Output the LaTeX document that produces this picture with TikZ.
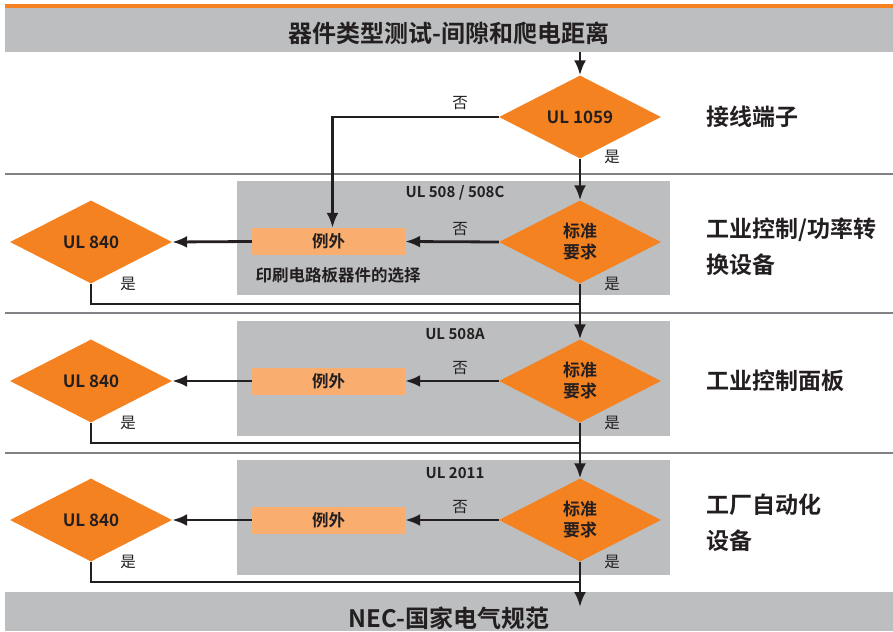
\documentclass[tikz,border=0pt]{standalone}
\usepackage{fontspec}
\setmainfont{Noto Sans CJK SC}[BoldFont={Noto Sans CJK SC Bold}]
\usepackage{xcolor}
\usetikzlibrary{arrows.meta,positioning,shapes.geometric}
\definecolor{ulorange}{HTML}{F58220}
\definecolor{exorange}{HTML}{F9AD6E}
\definecolor{bandgray}{HTML}{BCBEC0}
\definecolor{rulegray}{HTML}{808285}
\definecolor{ink}{HTML}{231F20}
\tikzset{%
  % boxes
  check/.style={diamond, fill=ulorange, aspect=1.95, minimum width=162pt,
    minimum height=83pt, inner sep=0pt, align=center, text=ink,
    font=\fontsize{17}{21}\selectfont\bfseries},
  except/.style={fill=exorange, minimum width=153pt, minimum height=27pt,
    inner sep=0pt, text=ink, font=\fontsize{16.5}{19}\selectfont\bfseries},
  band/.style={fill=bandgray, minimum width=888pt, inner sep=0pt, text=ink,
    text depth=0pt, font=\fontsize{24}{28}\selectfont\bfseries},
  panel/.style={fill=bandgray},
  % edge styles
  rel/.style={-{Latex[length=15pt,width=12pt]}, line width=2.8pt, draw=ink},
  merge/.style={line width=2.8pt, draw=ink},
  sep/.style={draw=rulegray, line width=1.8pt},
  % texts
  yes/.style={text=ink, font=\fontsize{15.5}{18}\selectfont},
  std/.style={text=ink, font=\fontsize{15}{18}\selectfont\bfseries},
  cat/.style={anchor=west, align=left, text=ink,
    font=\fontsize{23}{36}\selectfont\bfseries},
  note/.style={anchor=west, text=ink, font=\fontsize{16.5}{20}\selectfont\bfseries},
}
\begin{document}
\begin{tikzpicture}[x=1pt, y=-1pt]
  \useasboundingbox (0,0) rectangle (893,631);

  % bands and panels
  \fill[ulorange] (5,4) rectangle (893,8.5);
  \node[band, minimum height=44pt, text height=25pt] (title) at (449,30) {器件类型测试-间隙和爬电距离};
  \node[band, minimum height=39pt, text height=31pt] (foot) at (449,611.5) {NEC-国家电气规范};
  \draw[sep] (5,174) -- (893,174);
  \draw[sep] (5,313) -- (893,313);
  \draw[sep] (5,453) -- (893,453);
  \fill[panel] (237,181) rectangle (670,295);
  \fill[panel] (237,321) rectangle (670,436);
  \fill[panel] (237,460) rectangle (670,575);

  % decisions
  \node[check] (d0) at (580,117) {UL 1059};
  \node[check] (d1) at (580,242) {标准\\要求};
  \node[check] (d2) at (580,381) {标准\\要求};
  \node[check] (d3) at (580,520) {标准\\要求};
  \node[except] (e1) at (328.5,241.5) {例外};
  \node[except] (e2) at (328.5,381) {例外};
  \node[except] (e3) at (328.5,520) {例外};
  \node[check] (u1) at (91,242) {UL 840};
  \node[check] (u2) at (91,381) {UL 840};
  \node[check] (u3) at (91,520) {UL 840};

  % standards and categories
  \node[std] (s1) at (455,193) {UL 508 / 508C};
  \node[std] (s2) at (455,334) {UL 508A};
  \node[std] (s3) at (455,473) {UL 2011};
  \node[note] (pcb) at (252,275) {印刷电路板器件的选择};
  \node[cat] (c0) at (703,117) {接线端子};
  \node[cat] (c1) at (703,247) {工业控制/功率转\\换设备};
  \node[cat] (c2) at (703,381) {工业控制面板};
  \node[cat] (c3) at (703,523) {工厂自动化\\设备};

  % junctions
  \coordinate (j1) at (580,304);
  \coordinate (j2) at (580,443);
  \coordinate (j3) at (580,582);
  \coordinate (sink) at (580,607);

  % main line
  \draw[rel] (title.south -| d0.north) -- (d0.north);
  \draw[rel] (d0.south) -- (d1.north);
  \draw[rel] (d1.south) -- (d2.north);
  \draw[rel] (d2.south) -- (d3.north);
  \draw[rel] (d3.south) -- (sink);
  \draw[rel] (d0.west) -| ([xshift=4pt]e1.north);

  % exceptions
  \draw[rel] (d1.west) -- (e1.east);
  \draw[rel] (d2.west) -- (e2.east);
  \draw[rel] (d3.west) -- (e3.east);
  \draw[rel] (e1.west) -- (u1.east);
  \draw[rel] (e2.west) -- (u2.east);
  \draw[rel] (e3.west) -- (u3.east);
  \draw[merge] (u1.south) |- (j1);
  \draw[merge] (u2.south) |- (j2);
  \draw[merge] (u3.south) |- (j3);

  % yes / no
  \node[yes] (n0) at (460,103) {否};
  \node[yes] (n1) at (460,229) {否};
  \node[yes] (n2) at (460,368) {否};
  \node[yes] (n3) at (460,507) {否};
  \node[yes] (y0) at (612,157) {是};
  \node[yes] (y1) at (612,284) {是};
  \node[yes] (y2) at (612,423) {是};
  \node[yes] (y3) at (612,562) {是};
  \node[yes] (v1) at (128,284) {是};
  \node[yes] (v2) at (128,423) {是};
  \node[yes] (v3) at (128,562) {是};
\end{tikzpicture}
\end{document}
